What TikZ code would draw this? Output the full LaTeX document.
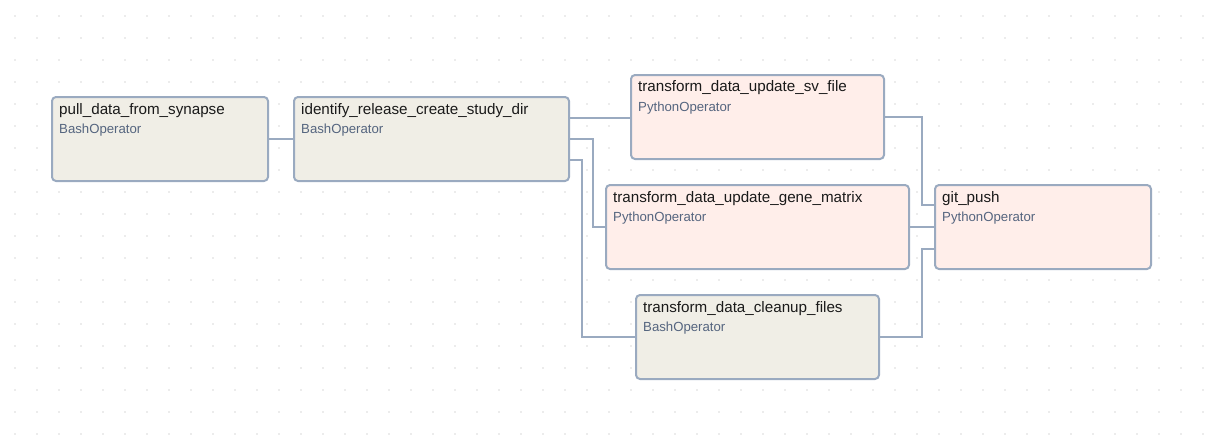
\documentclass[tikz,border=0pt]{standalone}
\usepackage{fontspec}
\setmainfont{Liberation Sans}
\definecolor{bordc}{HTML}{9AAAC0}
\definecolor{edgec}{HTML}{9AAAC0}
\definecolor{bashfill}{HTML}{F0EEE6}
\definecolor{pyfill}{HTML}{FFEEEA}
\definecolor{titlec}{HTML}{1A1A1A}
\definecolor{opc}{HTML}{55657F}
\definecolor{dotc}{HTML}{B0B0B0}
\newcommand\mytask[7]{%
  \node[#2, minimum width=#5pt-2pt] (#1) at (#3,#4) {};
  \node[tasktitle] (#1-t) at (#3+8,#4+18) {#6};
  \node[taskop] (#1-o) at (#3+8,#4+37) {#7};
}
\begin{document}
\begin{tikzpicture}[x=1pt,y=-1pt,
  taskbox/.style={draw=bordc, line width=2pt, rounded corners=4pt, inner sep=0pt, outer sep=1pt, anchor=north west, minimum height=84pt},
  bash/.style={taskbox, fill=bashfill},
  py/.style={taskbox, fill=pyfill},
  tasktitle/.style={anchor=base west, inner sep=0pt, font=\fontsize{15.2}{18}\selectfont, text=titlec},
  taskop/.style={anchor=base west, inner sep=0pt, font=\fontsize{13.2}{16}\selectfont, text=opc},
  edge/.style={draw=edgec, line width=2pt}]
\fill[white] (0,0) rectangle (1209,436);
\useasboundingbox (0,0) rectangle (1209,436);
\foreach \i in {0,...,54}{\foreach \j in {0,...,19}{\fill[dotc] (15+22*\i,16+22*\j) circle (0.65pt);}}
\mytask{pull}{bash}{51}{96}{218}{pull\_data\_from\_synapse}{BashOperator}
\mytask{id}{bash}{293}{96}{277}{identify\_release\_create\_study\_dir}{BashOperator}
\mytask{sv}{py}{630}{74}{255}{transform\_data\_update\_sv\_file}{PythonOperator}
\mytask{gene}{py}{605}{184}{305}{transform\_data\_update\_gene\_matrix}{PythonOperator}
\mytask{clean}{bash}{635}{294}{245}{transform\_data\_cleanup\_files}{BashOperator}
\mytask{git}{py}{934}{184}{218}{git\_push}{PythonOperator}
\draw[edge] (pull.east) -- (id.west);
\draw[edge] ([yshift=21pt]id.east) -- ([yshift=21pt]id.east -| sv.west);
\draw[edge] (id.east) -- ++(23,0) |- (gene.west);
\draw[edge] ([yshift=-21pt]id.east) -- ++(12,0) |- (clean.west);
\draw[edge] (sv.east) -- ++(37,0) |- ([yshift=22pt]git.west);
\draw[edge] (gene.east) -- (git.west);
\draw[edge] (clean.east) -- ++(42,0) |- ([yshift=-22pt]git.west);
\end{tikzpicture}
\end{document}
